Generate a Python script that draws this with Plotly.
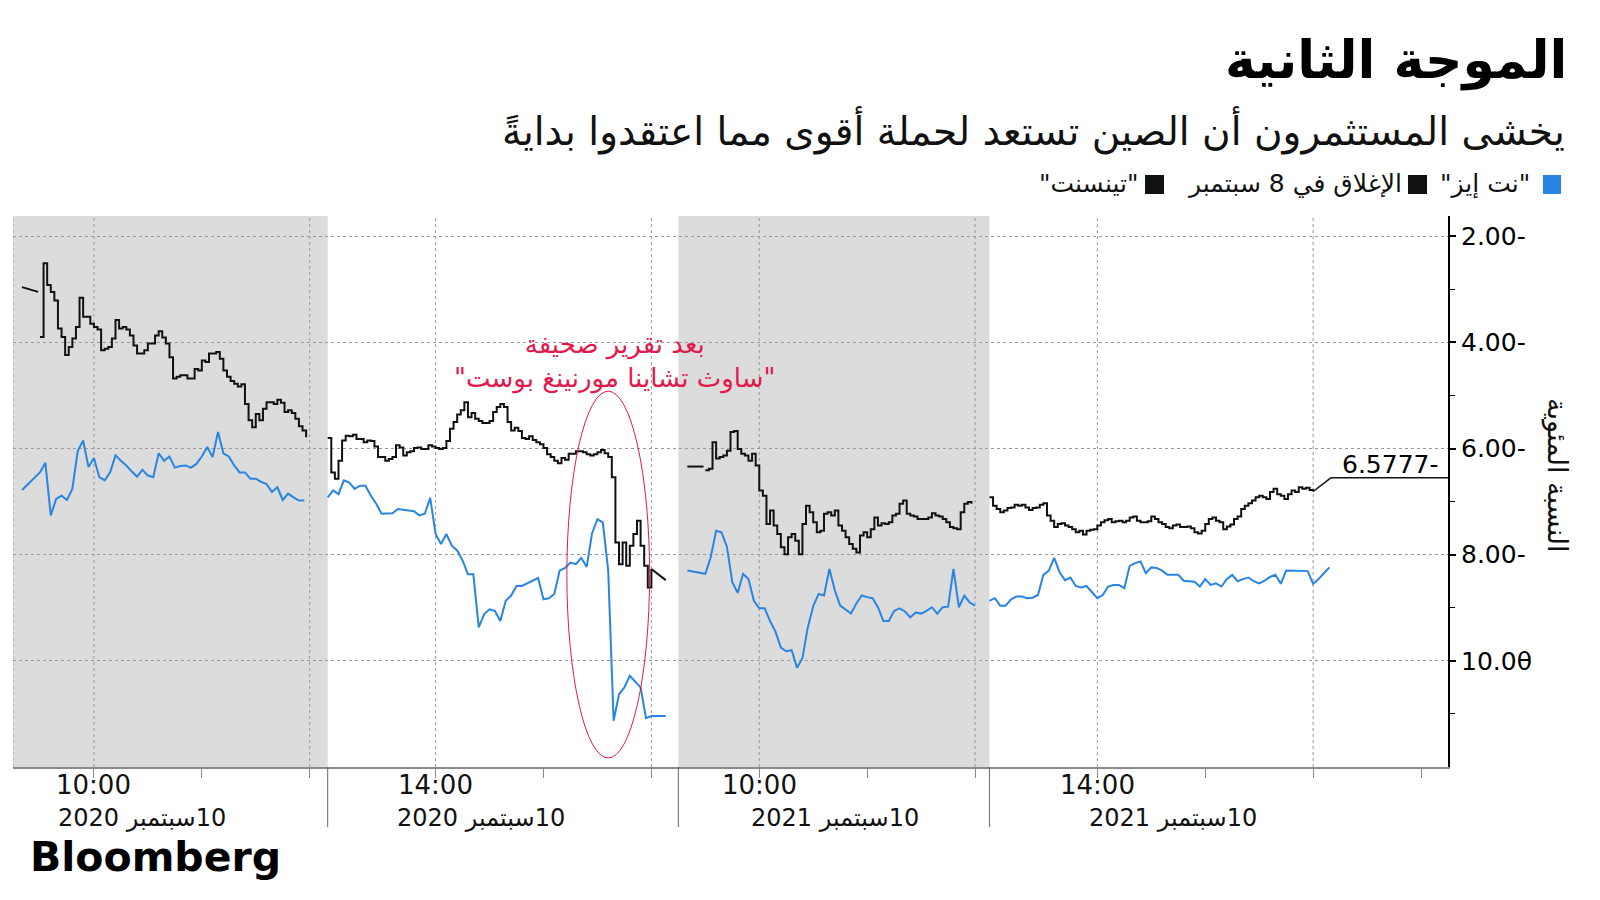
import plotly.graph_objects as go

# trading sessions shown on the x axis (year, open, close)
SESSIONS = [
    ("2020", "09:15", "12:10"),
    ("2020", "13:00", "16:15"),
    ("2021", "09:15", "12:08"),
    ("2021", "13:00", "17:15"),
]
SHADED = [0, 2]

# Tencent, 2-minute bars, % change vs 8 Sep close
TENCENT_START = ["09:30", "13:00", "09:30", "13:00"]
TENCENT_STEP = 2
TENCENT_S1 = [-3.90, -2.51, -2.92, -3.05, -3.21, -3.74, -3.90, -4.24, -4.09, -3.93,
              -3.71, -3.16, -3.52, -3.52, -3.65, -3.71, -3.76, -4.15, -4.12, -4.09,
              -3.93, -3.58, -3.74, -3.71, -3.76, -3.87, -4.06, -4.21, -4.21, -4.15,
              -4.02, -4.02, -3.87, -3.79, -3.91, -4.02, -4.28, -4.68, -4.65, -4.62,
              -4.62, -4.68, -4.68, -4.50, -4.53, -4.34, -4.37, -4.21, -4.21, -4.18,
              -4.31, -4.53, -4.65, -4.73, -4.78, -4.83, -4.79, -5.16, -5.47, -5.60,
              -5.35, -5.47, -5.25, -5.13, -5.13, -5.16, -5.08, -5.14, -5.31, -5.28,
              -5.33, -5.44, -5.58, -5.66, -5.79]
TENCENT_S2 = [-5.80, -6.45, -6.57, -6.23, -5.85, -5.76, -5.77, -5.74, -5.82, -5.82,
              -5.88, -5.85, -5.86, -5.96, -6.16, -6.16, -6.23, -6.20, -6.16, -5.94,
              -5.98, -6.13, -6.07, -6.05, -5.99, -5.98, -6.01, -6.01, -5.94, -5.96,
              -5.99, -6.01, -5.99, -5.86, -5.63, -5.50, -5.36, -5.28, -5.13, -5.41,
              -5.33, -5.44, -5.48, -5.52, -5.52, -5.48, -5.31, -5.22, -5.16, -5.22,
              -5.50, -5.66, -5.61, -5.67, -5.80, -5.82, -5.77, -5.84, -5.88, -5.92,
              -5.99, -6.11, -6.16, -6.23, -6.28, -6.18, -6.21, -6.10, -6.10, -6.05,
              -6.05, -6.07, -6.11, -6.13, -6.11, -6.07, -6.03, -6.09, -6.16, -6.54,
              -7.77, -8.18, -7.77, -8.21, -7.83, -7.61, -7.36, -7.83, -8.21, -8.62,
              -8.27]
TENCENT_S3 = [-6.41, -6.38, -5.88, -6.19, -6.16, -6.13, -6.04, -5.69, -5.67, -6.01,
              -6.10, -6.13, -6.23, -6.10, -6.32, -6.79, -6.89, -7.42, -7.17, -7.45,
              -7.61, -7.86, -7.99, -7.67, -7.61, -7.74, -7.99, -7.42, -7.08, -7.20,
              -7.39, -7.58, -7.55, -7.23, -7.20, -7.26, -7.17, -7.45, -7.55, -7.67,
              -7.80, -7.89, -7.96, -7.64, -7.58, -7.67, -7.52, -7.30, -7.45, -7.41,
              -7.42, -7.39, -7.26, -7.23, -7.04, -6.98, -7.23, -7.26, -7.28, -7.33,
              -7.33, -7.33, -7.30, -7.22, -7.26, -7.28, -7.33, -7.39, -7.48, -7.50,
              -7.52, -7.20, -7.04, -7.01, -7.04]
TENCENT_S4 = [-6.92, -7.08, -7.14, -7.20, -7.17, -7.12, -7.11, -7.06, -7.08, -7.06,
              -7.11, -7.16, -7.12, -7.11, -7.06, -7.03, -7.26, -7.36, -7.48, -7.42,
              -7.41, -7.45, -7.48, -7.52, -7.58, -7.55, -7.62, -7.55, -7.53, -7.52,
              -7.45, -7.39, -7.35, -7.33, -7.39, -7.37, -7.36, -7.39, -7.36, -7.30,
              -7.28, -7.36, -7.39, -7.39, -7.37, -7.28, -7.33, -7.39, -7.42, -7.48,
              -7.50, -7.45, -7.43, -7.48, -7.48, -7.47, -7.50, -7.58, -7.60, -7.55,
              -7.42, -7.33, -7.30, -7.36, -7.39, -7.52, -7.47, -7.43, -7.33, -7.28,
              -7.14, -7.08, -7.03, -6.98, -6.92, -6.89, -6.92, -6.95, -6.82, -6.76,
              -6.86, -6.89, -6.95, -6.86, -6.79, -6.82, -6.73, -6.76, -6.74, -6.78,
              -6.81]
TENCENT = [TENCENT_S1, TENCENT_S2, TENCENT_S3, TENCENT_S4]
# auction prints: session -> (from time, from value, to time, to value)
TENCENT_AUCTIONS = {0: ("09:20", -2.96, "09:29", -3.05),
                    2: ("09:20", -6.34, "09:29", -6.34),
                    1: ("16:00", -8.27, "16:08", -8.48)}

# NetEase, 3-minute points
NETEASE_START = ["09:30", "13:00", "09:30", "13:00"]
NETEASE_STEP = 3
NETEASE_S1 = [-6.45, -6.27, -7.26, -6.95, -6.89, -6.97, -6.76, -6.05, -5.85, -6.35,
              -6.18, -6.54, -6.60, -6.45, -6.13, -6.23, -6.32, -6.43, -6.53, -6.40,
              -6.51, -6.54, -6.09, -6.23, -6.15, -6.36, -6.33, -6.32, -6.36, -6.29,
              -6.15, -5.97, -6.16, -5.69, -6.09, -6.15, -6.32, -6.45, -6.45, -6.57,
              -6.57, -6.63, -6.67, -6.82, -6.73, -6.97, -6.85, -6.92, -6.98, -6.98]
NETEASE_S2 = [-6.92, -6.79, -6.86, -6.60, -6.64, -6.76, -6.70, -6.70, -6.89, -7.04,
              -7.23, -7.22, -7.22, -7.14, -7.16, -7.17, -7.18, -7.26, -7.23, -6.93,
              -7.61, -7.80, -7.61, -7.83, -7.92, -8.11, -8.37, -8.37, -9.37, -9.12,
              -9.03, -9.06, -9.25, -8.87, -8.77, -8.59, -8.59, -8.54, -8.50, -8.44,
              -8.84, -8.82, -8.74, -8.30, -8.25, -8.15, -8.18, -8.06, -8.23, -7.60,
              -7.33, -7.39, -8.30, -11.13, -10.63, -10.50, -10.28, -10.38, -10.50, -11.08,
              -11.04]
NETEASE_S3 = [-8.36, -8.05, -7.55, -7.58, -7.85, -8.52, -8.72, -8.36, -8.46, -8.87,
              -9.01, -9.01, -9.25, -9.45, -9.75, -9.82, -9.80, -10.13, -9.95, -9.37,
              -8.97, -8.74, -8.77, -8.27, -8.67, -8.96, -9.03, -9.11, -8.92, -8.77,
              -8.80, -8.82, -8.99, -9.25, -9.25, -9.06, -9.01, -9.07, -9.18, -9.09,
              -9.11, -9.06, -8.99, -9.11, -8.99, -8.98, -8.27, -8.99, -8.77, -8.90,
              -8.96]
NETEASE_S4 = [-8.87, -8.82, -8.96, -8.96, -8.84, -8.79, -8.79, -8.82, -8.81, -8.76,
              -8.38, -8.30, -8.06, -8.33, -8.48, -8.43, -8.59, -8.62, -8.59, -8.71,
              -8.82, -8.76, -8.60, -8.57, -8.57, -8.63, -8.21, -8.16, -8.13, -8.35,
              -8.24, -8.25, -8.30, -8.38, -8.38, -8.38, -8.49, -8.50, -8.51, -8.60,
              -8.46, -8.57, -8.54, -8.60, -8.46, -8.38, -8.50, -8.46, -8.43, -8.50,
              -8.54, -8.49, -8.42, -8.38, -8.55, -8.30, -8.30, -8.30, -8.30, -8.31,
              -8.55, -8.46, -8.35, -8.24]
NETEASE = [NETEASE_S1, NETEASE_S2, NETEASE_S3, NETEASE_S4]
NETEASE_OPEN_AUCTION = {0: ("09:20", -6.78), 2: ("09:20", -8.30)}
NETEASE_CLOSE_AUCTION = {1: ("16:08", -11.04)}

LAST_VALUE_LABEL = "6.5777-"
LAST_VALUE_LEVEL = -6.55

Y_TICKS = [-2, -4, -6, -8, -10]
Y_TICKTEXT = ["2.00-", "4.00-", "6.00-", "8.00-", "10.0θ"]

HOUR_TICKS = [["10:00", "11:00", "12:00"], ["14:00", "15:00", "16:00"],
              ["10:00", "11:00", "12:00"], ["14:00", "15:00", "16:00", "17:00"]]
GRID_HOURS = [["10:00", "12:00"], ["14:00", "16:00"], ["10:00", "12:00"], ["14:00", "16:00"]]
LABEL_HOURS = ["10:00", "14:00", "10:00", "14:00"]
DATE_LABELS = ["10سبتمبر 2020", "10سبتمبر 2020", "10سبتمبر 2021", "10سبتمبر 2021"]
DATE_LABEL_AT = ["10:27", "14:25", "10:42", "14:42"]

BLUE = "#2a84e2"
BLACK = "#111111"
RED = "#e3194d"
GRAY_BG = "#dcdcdc"
AR_FONT = "DejaVu Sans"
NARROW = "Liberation Sans Narrow, DejaVu Sans"


def clock(hhmm):
    h, m = hhmm.split(":")
    return int(h) + int(m) / 60


OFFSETS = []
acc = 0.0
for _, t_open, t_close in SESSIONS:
    OFFSETS.append(acc)
    acc += clock(t_close) - clock(t_open)
TOTAL = acc


def xpos(s, hhmm):
    return OFFSETS[s] + clock(hhmm) - clock(SESSIONS[s][1])


# page has an 8px body margin; plot area in screen pixels
PAGE_PAD = 8
W, H = 1600 - 2 * PAGE_PAD, 900 - 2 * PAGE_PAD
L, R, T, B = 13, 1448, 216, 767


def px_x(p):
    return (p - L) / (R - L)


def px_y(p):
    return (B - p) / (B - T)


def build(series, starts, step):
    xs, ys = [], []
    for s, vals in enumerate(series):
        x0 = xpos(s, starts[s])
        xs += [x0 + i * step / 60 for i in range(len(vals))] + [None]
        ys += list(vals) + [None]
    return xs, ys


tx, ty = build(TENCENT, TENCENT_START, TENCENT_STEP)

ax_, ay_ = [], []
for s, (t0, v0, t1, v1) in TENCENT_AUCTIONS.items():
    ax_ += [xpos(s, t0), xpos(s, t1), None]
    ay_ += [v0, v1, None]

nx, ny = [], []
for s, vals in enumerate(NETEASE):
    x0 = xpos(s, NETEASE_START[s])
    xs = [x0 + i * NETEASE_STEP / 60 for i in range(len(vals))]
    ys = list(vals)
    if s in NETEASE_OPEN_AUCTION:
        t, v = NETEASE_OPEN_AUCTION[s]
        xs = [xpos(s, t)] + xs
        ys = [v] + ys
    if s in NETEASE_CLOSE_AUCTION:
        t, v = NETEASE_CLOSE_AUCTION[s]
        xs = xs + [xpos(s, t)]
        ys = ys + [v]
    nx += xs + [None]
    ny += ys + [None]

fig = go.Figure()
fig.add_trace(go.Scatter(x=nx, y=ny, mode="lines", line=dict(color=BLUE, width=2),
                         showlegend=False, hoverinfo="skip"))
fig.add_trace(go.Scatter(x=tx, y=ty, mode="lines", line=dict(color=BLACK, width=2, shape="hv"),
                         showlegend=False, hoverinfo="skip"))
fig.add_trace(go.Scatter(x=ax_, y=ay_, mode="lines", line=dict(color=BLACK, width=2),
                         showlegend=False, hoverinfo="skip"))

shapes = []
for s in SHADED:
    x0 = OFFSETS[s]
    x1 = OFFSETS[s + 1] if s + 1 < len(OFFSETS) else TOTAL
    shapes.append(dict(type="rect", xref="x", yref="paper", x0=x0, x1=x1, y0=0, y1=1,
                       fillcolor=GRAY_BG, line_width=0, layer="below"))
grid_x = [0.0] + [xpos(s, h) for s, hs in enumerate(GRID_HOURS) for h in hs]
for gx in grid_x:
    shapes.append(dict(type="line", xref="x", yref="paper", x0=gx, x1=gx, y0=0, y1=1,
                       line=dict(color="#9a9a9a", width=1, dash="dot"), layer="below"))
# session separators below the axis
for off in OFFSETS[1:]:
    shapes.append(dict(type="line", xref="paper", yref="paper", x0=off / TOTAL, x1=off / TOTAL,
                       y0=px_y(827), y1=0, line=dict(color="#666", width=1)))
shapes.append(dict(type="circle", xref="x", yref="y",
                   x0=xpos(1, "15:13"), x1=xpos(1, "15:59"), y0=-11.83, y1=-4.92,
                   line=dict(color=RED, width=1)))
end_x = xpos(3, TENCENT_START[3]) + (len(TENCENT_S4) - 1) * TENCENT_STEP / 60
knee_x = xpos(3, "16:10")
shapes.append(dict(type="line", xref="x", yref="y", x0=end_x, y0=TENCENT_S4[-1],
                   x1=knee_x, y1=LAST_VALUE_LEVEL, line=dict(color=BLACK, width=1.5)))
shapes.append(dict(type="line", xref="x", yref="y", x0=knee_x, y0=LAST_VALUE_LEVEL,
                   x1=TOTAL, y1=LAST_VALUE_LEVEL, line=dict(color=BLACK, width=1.5)))
for x0, x1, col in [(1543, 1561, BLUE), (1408, 1427, BLACK), (1145, 1164, BLACK)]:
    shapes.append(dict(type="rect", xref="paper", yref="paper",
                       x0=px_x(x0), x1=px_x(x1), y0=px_y(194), y1=px_y(175),
                       fillcolor=col, line_width=0))

ann = []
ann.append(dict(text="<b>الموجة الثانية</b>", x=px_x(1569), y=px_y(60), xanchor="right",
                yanchor="middle", font=dict(family=AR_FONT, size=52, color="#000")))
ann.append(dict(text="يخشى المستثمرون أن الصين تستعد لحملة أقوى مما اعتقدوا بدايةً",
                x=px_x(1567), y=px_y(130), xanchor="right", yanchor="middle",
                font=dict(family=AR_FONT, size=39, color="#111")))
for text, right in [('"نت إيز"', 1532), ("الإغلاق في 8 سبتمبر", 1404), ('"تينسنت"', 1140)]:
    ann.append(dict(text=text, x=px_x(right), y=px_y(184), xanchor="right", yanchor="middle",
                    font=dict(family=AR_FONT, size=25, color="#111")))
ann.append(dict(text="بعد تقرير صحيفة<br>\"ساوث تشاينا مورنينغ بوست\"", xref="x", yref="y",
                x=xpos(1, "15:40"), y=-4.36, showarrow=False,
                font=dict(family=AR_FONT, size=26, color=RED)))
ann.append(dict(text=LAST_VALUE_LABEL, x=px_x(1441), y=px_y(464), xanchor="right",
                yanchor="middle", font=dict(family=AR_FONT, size=25, color="#000")))
ann.append(dict(text="النسبة المئوية", x=px_x(1557), y=px_y(476), textangle=90,
                xanchor="center", yanchor="middle",
                font=dict(family=AR_FONT, size=27, color="#111")))
for s, hh in enumerate(LABEL_HOURS):
    ann.append(dict(text=hh, xref="x", x=xpos(s, hh), y=px_y(785),
                    xanchor="center", yanchor="middle",
                    font=dict(family=NARROW, size=26, color="#111")))
for s, lab in enumerate(DATE_LABELS):
    ann.append(dict(text="\u200f" + lab, xref="x", x=xpos(s, DATE_LABEL_AT[s]), y=px_y(818),
                    xanchor="center", yanchor="middle",
                    font=dict(family=NARROW, size=24, color="#111")))
ann.append(dict(text="<b>Bloomberg</b>", x=px_x(28), y=px_y(857), xanchor="left",
                yanchor="middle", font=dict(family="DejaVu Sans", size=41, color="#000")))
for a in ann:
    a.setdefault("xref", "paper")
    a.setdefault("yref", "paper")
    a.setdefault("showarrow", False)

tickvals = [xpos(s, h) for s, hs in enumerate(HOUR_TICKS) for h in hs]

fig.update_layout(
    width=W, height=H,
    margin=dict(l=L - PAGE_PAD, r=W - (R - PAGE_PAD), t=T - PAGE_PAD, b=H - (B - PAGE_PAD), pad=0),
    paper_bgcolor="white", plot_bgcolor="white",
    shapes=shapes, annotations=ann,
    xaxis=dict(range=[0, TOTAL], showgrid=False, zeroline=False,
               showline=True, linecolor="#8a8a8a", linewidth=2,
               tickmode="array", tickvals=tickvals, showticklabels=False,
               ticks="outside", ticklen=9, tickcolor="#8a8a8a", tickwidth=1),
    yaxis=dict(side="right", range=[-12.0, -1.62], zeroline=False,
               showline=True, linecolor="#000", linewidth=2,
               tickmode="array", tickvals=Y_TICKS, ticktext=Y_TICKTEXT,
               ticks="outside", ticklen=6, tickwidth=2, tickcolor="#000",
               tickfont=dict(family="DejaVu Sans", size=25, color="#000"),
               showgrid=True, gridcolor="#9a9a9a", griddash="dot", gridwidth=1,
               minor=dict(tickmode="array", tickvals=[-3, -5, -7, -9, -11], ticks="outside",
                          ticklen=5, tickcolor="#000", tickwidth=1, showgrid=False)),
    hovermode=False,
)

fig.write_html("out.html")
